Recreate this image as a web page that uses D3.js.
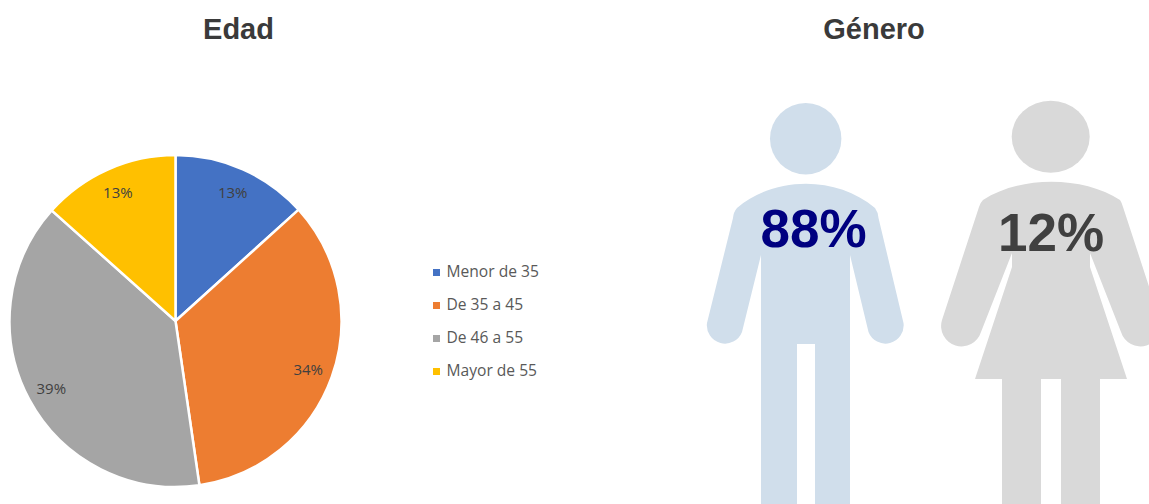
<!DOCTYPE html>
<html>
<head>
<meta charset="utf-8">
<script src="https://cdn.jsdelivr.net/npm/d3@7"></script>
<style>
  html, body { margin: 0; padding: 0; background: #fff; }
  svg { display: block; }
  .title { font-family: "Liberation Sans", Arial, sans-serif; font-weight: bold; font-size: 29px; fill: #3a3a3a; text-anchor: middle; }
  .pct { font-family: "Open Sans", sans-serif; font-size: 15px; fill: #404040; text-anchor: middle; }
  .legend { font-family: "Open Sans", sans-serif; font-size: 15.6px; fill: #595959; }
  .big { font-family: "Liberation Sans", Arial, sans-serif; font-weight: bold; font-size: 53px; text-anchor: middle; }
</style>
</head>
<body>
<div id="chart"></div>
<script>
var ageGroups = ["Menor de 35", "De 35 a 45", "De 46 a 55", "Mayor de 55"];
var ageValues = [13.3, 34.4, 38.9, 13.4];
var ageColors = ["#4472C4", "#ED7D31", "#A5A5A5", "#FFC000"];

var genders = ["Hombre", "Mujer"];
var genderValues = [88, 12];

var svg = d3.select("#chart")
  .append("svg")
  .attr("width", 1149)
  .attr("height", 504);

svg.append("text").attr("class", "title").attr("x", 238.5).attr("y", 39).text("Edad");
svg.append("text").attr("class", "title").attr("x", 874).attr("y", 39).text("Género");

// pie
var radius = 166;
var pieGroup = svg.append("g").attr("transform", "translate(175.5,321)");
var pie = d3.pie().sort(null)(ageValues);
var arc = d3.arc().innerRadius(0).outerRadius(radius);
var labelArc = d3.arc().innerRadius(141).outerRadius(141);

pieGroup.selectAll("path")
  .data(pie)
  .enter()
  .append("path")
  .attr("d", arc)
  .attr("fill", (d, i) => ageColors[i])
  .attr("stroke", "#fff")
  .attr("stroke-width", 2.5);

pieGroup.selectAll("text")
  .data(pie)
  .enter()
  .append("text")
  .attr("class", "pct")
  .attr("x", d => labelArc.centroid(d)[0])
  .attr("y", d => labelArc.centroid(d)[1] + 6)
  .text(d => Math.round(d.data) + "%");

// legend
var legendY = d3.scalePoint().domain(ageGroups).range([272, 371]);
var legend = svg.selectAll("g.item")
  .data(ageGroups)
  .enter()
  .append("g")
  .attr("class", "item")
  .attr("transform", d => `translate(433, ${legendY(d)})`);

legend.append("rect")
  .attr("y", -3)
  .attr("width", 7)
  .attr("height", 7)
  .attr("fill", (d, i) => ageColors[i]);

legend.append("text")
  .attr("class", "legend")
  .attr("x", 13.5)
  .attr("y", 5)
  .text(d => d);

// man
svg.append("circle").attr("cx", 805.7).attr("cy", 138.7).attr("r", 35.7).attr("fill", "#D0DEEB");
svg.append("path")
  .attr("fill", "#D0DEEB")
  .attr("d", "M737,208 C775,175.6 837,175.6 875,208 Q878,212 878.5,218 L903.5,323 A18.2,18.2 0 0 1 868.5,332 L850,255 V504 H815 V344 H797 V504 H761 V255 L742,332 A18.2,18.2 0 0 1 707,323 L733,218 Q733.5,212 737,208 Z");

// woman
svg.append("ellipse").attr("cx", 1050.7).attr("cy", 136.7).attr("rx", 39).attr("ry", 36).attr("fill", "#D9D9D9");
svg.append("path")
  .attr("fill", "#D9D9D9")
  .attr("d", "M983,200 C1020,175.6 1083,175.6 1120,200 Q1122,203 1123,207 L1160,320 A20,20 0 0 1 1121,332 L1090,253 V267 L1127,379 H1100 V504 H1061 V379 H1041 V504 H1002 V379 H975 L1012,267 V253 L981,332 A20,20 0 0 1 942,320 L979,207 Q980,203 983,200 Z");

svg.selectAll("text.big")
  .data(genderValues)
  .enter()
  .append("text")
  .attr("class", "big")
  .attr("x", (d, i) => i === 0 ? 813.5 : 1051)
  .attr("y", (d, i) => i === 0 ? 247 : 251)
  .attr("fill", (d, i) => i === 0 ? "#000080" : "#404040")
  .text(d => d + "%");
</script>
</body>
</html>
